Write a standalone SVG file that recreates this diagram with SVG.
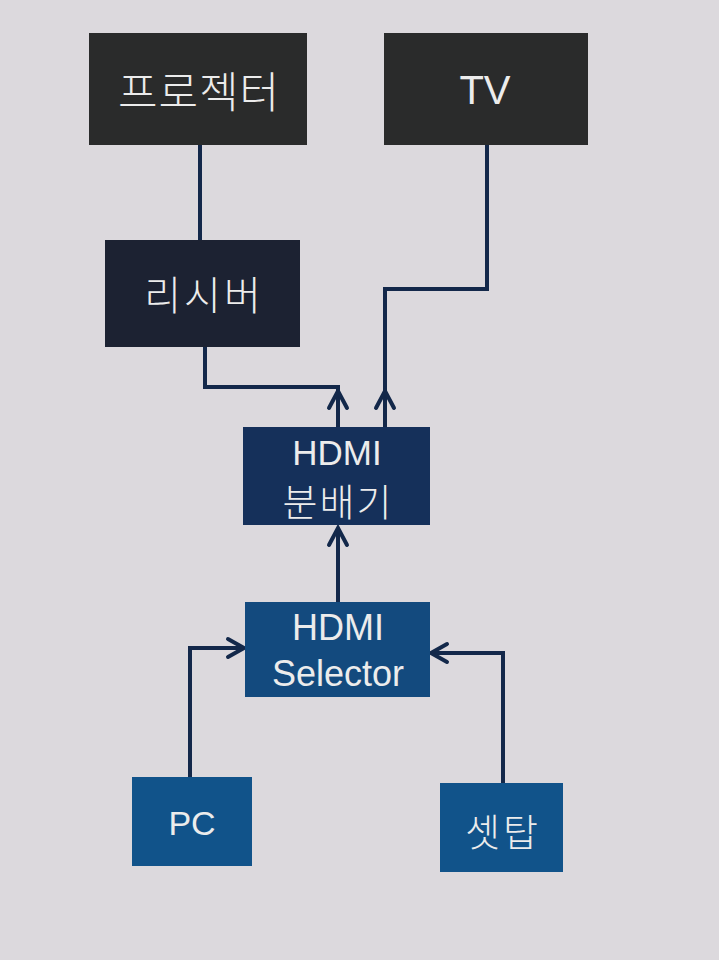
<svg xmlns="http://www.w3.org/2000/svg" width="719" height="960" viewBox="0 0 719 960">
<style>
.t{font-family:"Liberation Sans",Arial,"Noto Sans CJK KR",sans-serif;fill:#ececec;text-anchor:middle}
.k{font-family:"Noto Sans CJK KR","Noto Sans",sans-serif;fill:#ececec;text-anchor:middle;font-weight:300}
.ln{fill:none;stroke:#13284a;stroke-width:4;stroke-linejoin:miter}
.ah{fill:none;stroke:#13284a;stroke-width:4;stroke-linejoin:miter;stroke-linecap:round}
</style>
<rect width="719" height="960" fill="#dcd9dd"/>
<g id="connectors">
  <path class="ln" d="M200,145 V240"/>
  <path class="ln" d="M338,427 V387 H205 V347"/>
  <path class="ah" d="M329,408 L338,391 L347,408"/>
  <path class="ln" d="M385,427 V289 H487 V145"/>
  <path class="ah" d="M376,408 L385,391 L394,408"/>
  <path class="ln" d="M338,602 V528"/>
  <path class="ah" d="M329,545 L338,528 L347,545"/>
  <path class="ln" d="M190,777 V648 H243"/>
  <path class="ah" d="M228,639 L244,648 L228,657"/>
  <path class="ln" d="M503,783 V653 H432"/>
  <path class="ah" d="M447,644 L431,653 L447,662"/>
</g>
<g id="projector">
  <rect x="89" y="33" width="218" height="112" fill="#2a2b2b"/>
  <text class="k" x="199" y="108" font-size="43" letter-spacing="1">프로젝터</text>
</g>
<g id="tv">
  <rect x="384" y="33" width="204" height="112" fill="#2a2b2b"/>
  <text class="t" x="485" y="104" font-size="40">TV</text>
</g>
<g id="receiver">
  <rect x="105" y="240" width="195" height="107" fill="#1c2232"/>
  <text class="k" x="204" y="310" font-size="40" letter-spacing="3">리시버</text>
</g>
<g id="splitter">
  <rect x="243" y="427" width="187" height="98" fill="#15305a"/>
  <text class="t" x="337" y="465" font-size="35">HDMI</text>
  <text class="k" x="338" y="516" font-size="38" letter-spacing="2">분배기</text>
</g>
<g id="selector">
  <rect x="245" y="602" width="185" height="95" fill="#134a7e"/>
  <text class="t" x="338" y="640" font-size="36">HDMI</text>
  <text class="t" x="338" y="686" font-size="36">Selector</text>
</g>
<g id="pc">
  <rect x="132" y="777" width="120" height="89" fill="#11538a"/>
  <text class="t" x="192" y="835" font-size="34">PC</text>
</g>
<g id="settop">
  <rect x="440" y="783" width="123" height="89" fill="#11538a"/>
  <text class="k" x="503" y="846" font-size="38" letter-spacing="3">셋탑</text>
</g>
</svg>
